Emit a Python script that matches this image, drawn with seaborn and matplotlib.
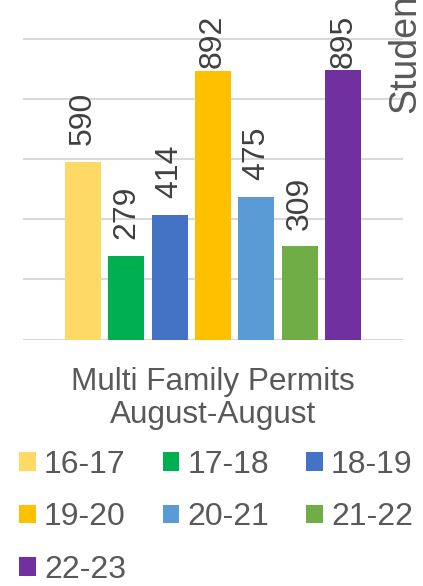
import numpy as np
import pandas as pd
from matplotlib import pyplot as plt
from matplotlib.patches import Patch
import seaborn as sns

category = "Multi Family Permits\nAugust-August"
seasons = ["16-17", "17-18", "18-19", "19-20", "20-21", "21-22", "22-23"]
permits = [590, 279, 414, 892, 475, 309, 895]
colors = ["#FFD966", "#00B050", "#4472C4", "#FFC000", "#5B9BD5", "#70AD47", "#7030A0"]
grid_ticks = [0, 200, 400, 600, 800, 1000]

sns.set_style("white")
plt.rcParams["font.family"] = ["Liberation Sans", "DejaVu Sans"]

df = pd.DataFrame({"category": category, "season": seasons, "permits": permits})

fig = plt.figure(figsize=(4.23, 5.86), dpi=100)
ax = fig.add_axes([23 / 423, 1 - 339.5 / 586, 380 / 423, 339.5 / 586])

sns.barplot(data=df, x="category", y="permits", hue="season", hue_order=seasons,
            palette=colors, saturation=1, width=0.8, gap=0.17, linewidth=0,
            legend=False, ax=ax)

ax.set_ylim(0, 1128)
ax.set_xlim(-0.5, 0.5)
ax.set_yticks(grid_ticks)
ax.yaxis.grid(True, color="#D9D9D9", linewidth=1.5)
ax.set_axisbelow(True)
ax.tick_params(axis="y", length=0, labelleft=False)
ax.tick_params(axis="x", length=0, pad=20)
for lbl in ax.get_xticklabels():
    lbl.set_fontsize(22.7)
    lbl.set_color("#595959")
    lbl.set_linespacing(1.13)
ax.set_xlabel("")
ax.set_ylabel("")
for s in ax.spines.values():
    s.set_visible(False)

# data labels above the bars, kept inside the plot area
for cont in ax.containers:
    bar = cont[0]
    v = bar.get_height()
    x = bar.get_x() + bar.get_width() / 2
    ax.text(x, min(v + 55, 902), f"{v:.0f}", rotation=90, ha="center", va="bottom",
            fontsize=23, color="#404040")

# secondary axis title, cut off at the top like the source
fig.text(405 / 423, 1 - 113 / 586, "Students", rotation=90, ha="center", va="bottom",
         fontsize=27, color="#595959")

handles = [Patch(facecolor=c, edgecolor="none") for c in colors]
order = [0, 3, 6, 1, 4, 2, 5]
fig.legend([handles[i] for i in order], [seasons[i] for i in order],
           loc="upper left", bbox_to_anchor=(19 / 423, 1 - 450 / 586), ncol=3,
           frameon=False, fontsize=23, handlelength=0.52, handleheight=0.52,
           handletextpad=0.26, columnspacing=1.15, labelspacing=0.7,
           borderpad=0, borderaxespad=0, labelcolor="#595959")

fig.savefig("out.png", dpi=100)
